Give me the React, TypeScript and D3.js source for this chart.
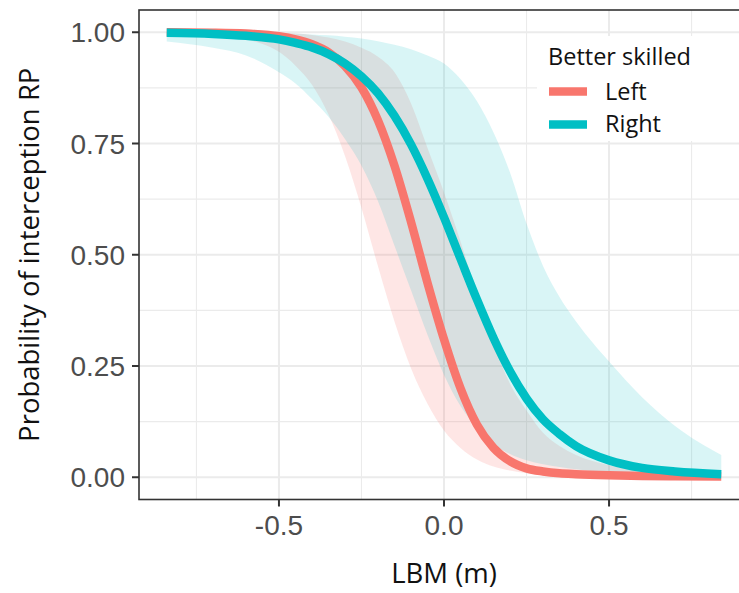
import React from "react";
import * as d3 from "d3";

// LBM values (m) at which the fitted curves and intervals are evaluated
const lbm = [-0.84, -0.7, -0.6, -0.5, -0.45, -0.4, -0.35, -0.3, -0.25, -0.2, -0.15, -0.1, -0.05, 0, 0.05, 0.1, 0.15, 0.2, 0.25, 0.3, 0.35, 0.4, 0.5, 0.6, 0.7, 0.84];

// Better skilled: Left
const leftFit = [0.9998, 0.999, 0.997, 0.991, 0.984, 0.973, 0.955, 0.924, 0.876, 0.802, 0.7, 0.574, 0.437, 0.31, 0.2, 0.118, 0.066, 0.036, 0.02, 0.013, 0.009, 0.007, 0.0045, 0.003, 0.0022, 0.0015];
const leftLower = [0.9987, 0.9945, 0.984, 0.956, 0.925, 0.882, 0.815, 0.722, 0.605, 0.474, 0.35, 0.245, 0.165, 0.105, 0.066, 0.04, 0.024, 0.015, 0.009, 0.0055, 0.0035, 0.0022, 0.001, 0.0005, 0.0003, 0.0001];
const leftUpper = [0.99998, 0.9999, 0.9997, 0.999, 0.997, 0.994, 0.988, 0.979, 0.965, 0.945, 0.91, 0.84, 0.74, 0.64, 0.53, 0.41, 0.3, 0.21, 0.15, 0.1, 0.07, 0.05, 0.027, 0.015, 0.009, 0.005];

// Better skilled: Right
const rightFit = [0.9987, 0.9963, 0.992, 0.984, 0.976, 0.966, 0.951, 0.93, 0.901, 0.863, 0.812, 0.748, 0.671, 0.584, 0.491, 0.399, 0.313, 0.238, 0.177, 0.13, 0.097, 0.07, 0.038, 0.021, 0.013, 0.007];
const rightLower = [0.979, 0.965, 0.948, 0.91, 0.885, 0.85, 0.81, 0.76, 0.7, 0.62, 0.52, 0.42, 0.32, 0.23, 0.16, 0.11, 0.075, 0.052, 0.038, 0.029, 0.023, 0.018, 0.01, 0.006, 0.0035, 0.0015];
const rightUpper = [0.99995, 0.9998, 0.9995, 0.998, 0.997, 0.995, 0.993, 0.99, 0.986, 0.98, 0.972, 0.962, 0.948, 0.93, 0.895, 0.845, 0.775, 0.685, 0.57, 0.475, 0.405, 0.35, 0.26, 0.18, 0.115, 0.05];

const groups = ["Left", "Right"];
const groupColors = ["#F8766D", "#00BFC4"];
const bandAlpha = [0.18, 0.15];

const xBreaks = [-0.5, 0, 0.5];
const xLabels = ["-0.5", "0.0", "0.5"];
const xMinor = [-0.75, -0.25, 0.25, 0.75];
const yBreaks = [0, 0.25, 0.5, 0.75, 1];
const yLabels = ["0.00", "0.25", "0.50", "0.75", "1.00"];
const yMinor = [0.125, 0.375, 0.625, 0.875];

const W = 739;
const H = 593;
const panel = { left: 139, right: 749, top: 10, bottom: 499.5 };

export default function App() {
  const x = d3.scaleLinear().domain([-0.924, 0.924]).range([panel.left, panel.right]);
  const y = d3.scaleLinear().domain([-0.05, 1.05]).range([panel.bottom, panel.top]);

  const series = groups.map((name, i) => ({
    name,
    color: groupColors[i],
    alpha: bandAlpha[i],
    fit: i === 0 ? leftFit : rightFit,
    lo: i === 0 ? leftLower : rightLower,
    hi: i === 0 ? leftUpper : rightUpper,
  }));

  const area = (lo: number[], hi: number[]) =>
    d3
      .area<number>()
      .x((d) => x(d))
      .y0((_, i) => y(lo[i]))
      .y1((_, i) => y(hi[i]))
      .curve(d3.curveMonotoneX)(lbm) as string;

  const line = (v: number[]) =>
    d3
      .line<number>()
      .x((d) => x(d))
      .y((_, i) => y(v[i]))
      .curve(d3.curveMonotoneX)(lbm) as string;

  const grid = "#EBEBEB";
  const axisCol = "#333333";
  const tickText = "#4D4D4D";
  const titleFont = "'Open Sans', 'Noto Sans', sans-serif";
  const tickFont = "'Liberation Sans', Arial, sans-serif";

  return (
    <svg
      width={W}
      height={H}
      viewBox={`0 0 ${W} ${H}`}
      style={{ position: "absolute", left: 0, top: 0, background: "#fff" }}
    >
      <defs>
        <clipPath id="panel-clip">
          <rect x={panel.left} y={panel.top} width={panel.right - panel.left} height={panel.bottom - panel.top} />
        </clipPath>
      </defs>
      <rect x={0} y={0} width={W} height={H} fill="#fff" />

      <g clipPath="url(#panel-clip)">
        {xMinor.map((v) => (
          <line key={"xm" + v} x1={x(v)} x2={x(v)} y1={panel.top} y2={panel.bottom} stroke={grid} strokeWidth={1.1} />
        ))}
        {yMinor.map((v) => (
          <line key={"ym" + v} x1={panel.left} x2={panel.right} y1={y(v)} y2={y(v)} stroke={grid} strokeWidth={1.1} />
        ))}
        {xBreaks.map((v) => (
          <line key={"xM" + v} x1={x(v)} x2={x(v)} y1={panel.top} y2={panel.bottom} stroke={grid} strokeWidth={2} />
        ))}
        {yBreaks.map((v) => (
          <line key={"yM" + v} x1={panel.left} x2={panel.right} y1={y(v)} y2={y(v)} stroke={grid} strokeWidth={2} />
        ))}

        {series.map((s) => (
          <path key={"band" + s.name} d={area(s.lo, s.hi)} fill={s.color} fillOpacity={s.alpha} stroke="none" />
        ))}
        {series.map((s) => (
          <path key={"fit" + s.name} d={line(s.fit)} fill="none" stroke={s.color} strokeWidth={8.5} strokeLinecap="butt" />
        ))}
      </g>

      {/* panel border */}
      <rect
        x={panel.left}
        y={panel.top}
        width={panel.right - panel.left}
        height={panel.bottom - panel.top}
        fill="none"
        stroke={axisCol}
        strokeWidth={1.6}
      />

      {/* y axis */}
      {yBreaks.map((v, i) => (
        <g key={"yt" + v}>
          <line x1={panel.left - 7} x2={panel.left} y1={y(v)} y2={y(v)} stroke={axisCol} strokeWidth={2} />
          <text x={125} y={y(v) + 10} textAnchor="end" fontFamily={tickFont} fontSize={28} fill={tickText}>
            {yLabels[i]}
          </text>
        </g>
      ))}

      {/* x axis */}
      {xBreaks.map((v, i) => (
        <g key={"xt" + v}>
          <line x1={x(v)} x2={x(v)} y1={panel.bottom} y2={panel.bottom + 7} stroke={axisCol} strokeWidth={2} />
          <text x={x(v)} y={535} textAnchor="middle" fontFamily={tickFont} fontSize={28} fill={tickText}>
            {xLabels[i]}
          </text>
        </g>
      ))}

      <text x={444} y={583} textAnchor="middle" fontFamily={titleFont} fontSize={27.5} fill="#111">
        LBM (m)
      </text>
      <text
        transform={`translate(39, ${(panel.top + panel.bottom) / 2}) rotate(-90)`}
        textAnchor="middle"
        fontFamily={titleFont}
        fontSize={27.5}
        fill="#111"
      >
        Probability of interception RP
      </text>

      {/* legend, inside the panel on a white box */}
      <g>
        <rect x={537} y={36} width={panel.right - 537 - 1} height={105} fill="#fff" />
        <text x={548} y={64.5} fontFamily={titleFont} fontSize={23.5} fill="#111">
          Better skilled
        </text>
        {series.map((s, i) => (
          <g key={"lg" + s.name}>
            <line x1={549} x2={587} y1={91.5 + i * 33} y2={91.5 + i * 33} stroke={s.color} strokeWidth={8.5} />
            <text x={605} y={99.5 + i * 32} fontFamily={titleFont} fontSize={23.5} fill="#111">
              {s.name}
            </text>
          </g>
        ))}
      </g>
    </svg>
  );
}
